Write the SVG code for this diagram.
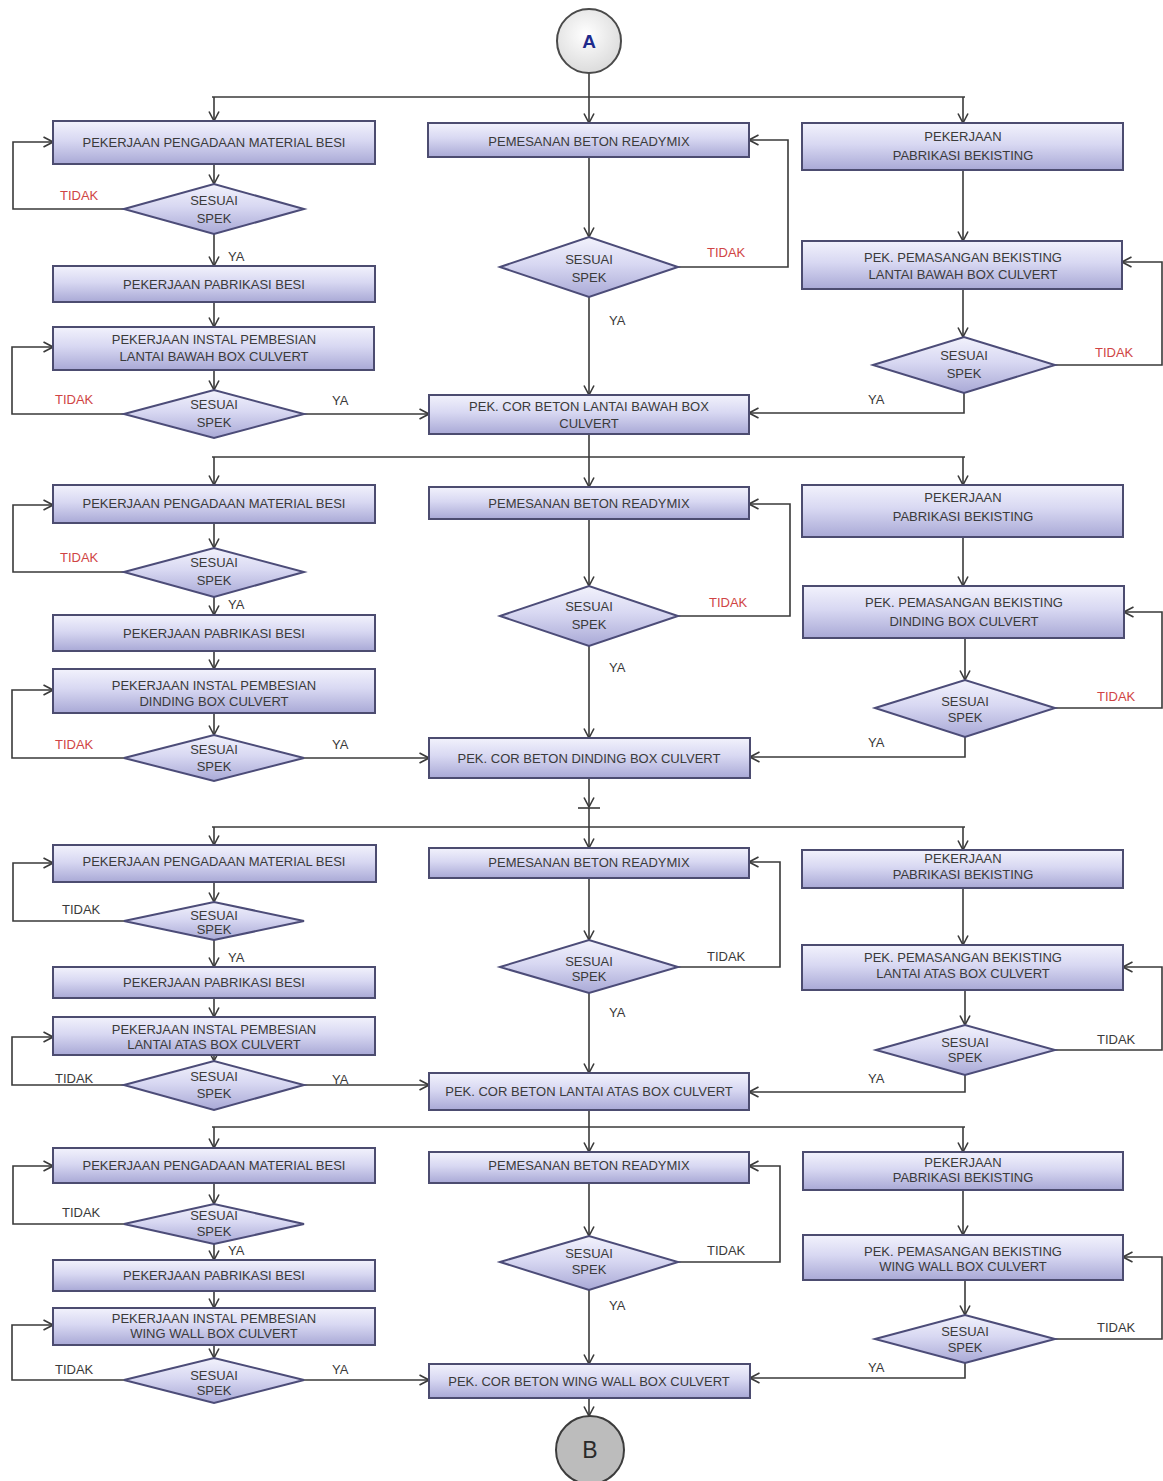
<svg xmlns="http://www.w3.org/2000/svg" width="1163" height="1481" viewBox="0 0 1163 1481">
  <style>
    .box { fill: url(#boxFill); stroke: #4c4c70; stroke-width: 2; }
    .dia { fill: url(#boxFill); stroke: #4c4c78; stroke-width: 2; }
    .t { font-family: "Liberation Sans", Arial, sans-serif; font-size: 13px; fill: #3a3a3a; text-anchor: middle; }
    .lbl { font-family: "Liberation Sans", Arial, sans-serif; font-size: 13px; fill: #3a3a3a; }
    .no { fill: #d04444; }
    .ln { fill: none; stroke: #3a3a3a; stroke-width: 1.6; }
    .ar { marker-end: url(#arrow); }
  </style>
  <defs>
    <linearGradient id="boxFill" x1="0" y1="0" x2="0" y2="1">
      <stop offset="0" stop-color="#f2f2fc"/>
      <stop offset="0.45" stop-color="#d8d8f2"/>
      <stop offset="1" stop-color="#a9a9d6"/>
    </linearGradient>
    <radialGradient id="startFill" cx="0.45" cy="0.4" r="0.7">
      <stop offset="0" stop-color="#ffffff"/>
      <stop offset="1" stop-color="#d6d6d6"/>
    </radialGradient>
    <marker id="arrow" viewBox="0 0 11 12" refX="10.5" refY="6" markerWidth="11" markerHeight="12" markerUnits="userSpaceOnUse" orient="auto">
      <path d="M1,1 L10.5,6 L1,11" fill="none" stroke="#3a3a3a" stroke-width="1.6"/>
    </marker>
  </defs>
  <rect width="1163" height="1481" fill="#ffffff"/>

  <!-- connectors -->
  <g id="connectors">
    <!-- stage 1: lantai bawah -->
    <path class="ln ar" d="M589,73 V123"/>
    <path class="ln" d="M212,97 H965"/>
    <path class="ln ar" d="M214,97 V121"/>
    <path class="ln ar" d="M963,97 V123"/>
    <path class="ln ar" d="M214,164 V184"/>
    <path class="ln ar" d="M124,209 H13 V142 H53"/>
    <path class="ln ar" d="M214,234 V266"/>
    <path class="ln ar" d="M214,302 V327"/>
    <path class="ln ar" d="M214,370 V390"/>
    <path class="ln ar" d="M124,414 H12 V347 H53"/>
    <path class="ln ar" d="M304,414 H429"/>
    <path class="ln ar" d="M589,157 V237"/>
    <path class="ln ar" d="M678,267 H788 V140 H749"/>
    <path class="ln ar" d="M589,297 V395"/>
    <path class="ln ar" d="M963,170 V241"/>
    <path class="ln ar" d="M963,289 V337"/>
    <path class="ln ar" d="M1055,365 H1162 V262 H1122"/>
    <path class="ln ar" d="M964,393 V413 H749"/>

    <!-- stage 2: dinding -->
    <path class="ln" d="M589,434 V457"/>
    <path class="ln" d="M212,457 H965"/>
    <path class="ln ar" d="M214,457 V485"/>
    <path class="ln ar" d="M589,457 V487"/>
    <path class="ln ar" d="M963,457 V485"/>
    <path class="ln ar" d="M214,523 V548"/>
    <path class="ln ar" d="M124,572 H13 V505 H53"/>
    <path class="ln ar" d="M214,597 V615"/>
    <path class="ln ar" d="M214,651 V669"/>
    <path class="ln ar" d="M214,713 V735"/>
    <path class="ln ar" d="M124,758 H12 V690 H53"/>
    <path class="ln ar" d="M304,758 H429"/>
    <path class="ln ar" d="M589,519 V586"/>
    <path class="ln ar" d="M678,616 H790 V504 H749"/>
    <path class="ln ar" d="M589,646 V738"/>
    <path class="ln ar" d="M963,537 V586"/>
    <path class="ln ar" d="M965,638 V680"/>
    <path class="ln ar" d="M1055,708 H1162 V612 H1124"/>
    <path class="ln ar" d="M965,737 V757 H750"/>

    <!-- stage 3: lantai atas -->
    <path class="ln ar" d="M589,778 V807"/>
    <path class="ln" d="M578,808 H600"/>
    <path class="ln" d="M589,808 V827"/>
    <path class="ln" d="M212,827 H965"/>
    <path class="ln ar" d="M214,827 V845"/>
    <path class="ln ar" d="M589,827 V848"/>
    <path class="ln ar" d="M963,827 V850"/>
    <path class="ln ar" d="M214,882 V902"/>
    <path class="ln ar" d="M124,921 H13 V863 H53"/>
    <path class="ln ar" d="M214,940 V967"/>
    <path class="ln ar" d="M214,998 V1017"/>
    <path class="ln ar" d="M214,1055 V1061"/>
    <path class="ln ar" d="M124,1085 H12 V1037 H53"/>
    <path class="ln ar" d="M304,1085 H429"/>
    <path class="ln ar" d="M589,878 V940"/>
    <path class="ln ar" d="M678,967 H780 V862 H749"/>
    <path class="ln ar" d="M589,993 V1073"/>
    <path class="ln ar" d="M963,888 V945"/>
    <path class="ln ar" d="M965,990 V1025"/>
    <path class="ln ar" d="M1055,1050 H1162 V967 H1123"/>
    <path class="ln ar" d="M965,1075 V1092 H749"/>

    <!-- stage 4: wing wall -->
    <path class="ln" d="M589,1110 V1127"/>
    <path class="ln" d="M212,1127 H965"/>
    <path class="ln ar" d="M214,1127 V1148"/>
    <path class="ln ar" d="M589,1127 V1152"/>
    <path class="ln ar" d="M963,1127 V1152"/>
    <path class="ln ar" d="M214,1183 V1204"/>
    <path class="ln ar" d="M124,1224 H13 V1166 H53"/>
    <path class="ln ar" d="M214,1244 V1260"/>
    <path class="ln ar" d="M214,1291 V1308"/>
    <path class="ln ar" d="M214,1345 V1358"/>
    <path class="ln ar" d="M124,1380 H12 V1325 H53"/>
    <path class="ln ar" d="M304,1380 H429"/>
    <path class="ln ar" d="M589,1183 V1236"/>
    <path class="ln ar" d="M678,1262 H780 V1166 H749"/>
    <path class="ln ar" d="M589,1290 V1364"/>
    <path class="ln ar" d="M963,1190 V1235"/>
    <path class="ln ar" d="M965,1280 V1315"/>
    <path class="ln ar" d="M1055,1339 H1162 V1257 H1123"/>
    <path class="ln ar" d="M965,1363 V1378 H750"/>
    <path class="ln ar" d="M589,1398 V1416"/>
  </g>

  <!-- branch labels -->
  <g id="labels">
    <text class="lbl no" x="60" y="200">TIDAK</text>
    <text class="lbl" x="228" y="261">YA</text>
    <text class="lbl no" x="55" y="404">TIDAK</text>
    <text class="lbl" x="332" y="405">YA</text>
    <text class="lbl no" x="707" y="257">TIDAK</text>
    <text class="lbl" x="609" y="325">YA</text>
    <text class="lbl no" x="1095" y="357">TIDAK</text>
    <text class="lbl" x="868" y="404">YA</text>

    <text class="lbl no" x="60" y="562">TIDAK</text>
    <text class="lbl" x="228" y="609">YA</text>
    <text class="lbl no" x="55" y="749">TIDAK</text>
    <text class="lbl" x="332" y="749">YA</text>
    <text class="lbl no" x="709" y="607">TIDAK</text>
    <text class="lbl" x="609" y="672">YA</text>
    <text class="lbl no" x="1097" y="701">TIDAK</text>
    <text class="lbl" x="868" y="747">YA</text>

    <text class="lbl" x="62" y="914">TIDAK</text>
    <text class="lbl" x="228" y="962">YA</text>
    <text class="lbl" x="55" y="1083">TIDAK</text>
    <text class="lbl" x="332" y="1084">YA</text>
    <text class="lbl" x="707" y="961">TIDAK</text>
    <text class="lbl" x="609" y="1017">YA</text>
    <text class="lbl" x="1097" y="1044">TIDAK</text>
    <text class="lbl" x="868" y="1083">YA</text>

    <text class="lbl" x="62" y="1217">TIDAK</text>
    <text class="lbl" x="228" y="1255">YA</text>
    <text class="lbl" x="55" y="1374">TIDAK</text>
    <text class="lbl" x="332" y="1374">YA</text>
    <text class="lbl" x="707" y="1255">TIDAK</text>
    <text class="lbl" x="609" y="1310">YA</text>
    <text class="lbl" x="1097" y="1332">TIDAK</text>
    <text class="lbl" x="868" y="1372">YA</text>
  </g>

  <!-- connector circles -->
  <g id="start-a">
    <circle cx="589" cy="41" r="32" fill="url(#startFill)" stroke="#4a4a4a" stroke-width="2"/>
    <text x="589" y="48" font-family="Liberation Sans, Arial, sans-serif" font-size="19" font-weight="bold" fill="#1e2a8c" text-anchor="middle">A</text>
  </g>
  <g id="end-b">
    <circle cx="590" cy="1450" r="34" fill="#bcbcbc" stroke="#3c3c3c" stroke-width="2"/>
    <text x="590" y="1458" font-family="Liberation Sans, Arial, sans-serif" font-size="23" fill="#2a2a2a" text-anchor="middle">B</text>
  </g>

  <!-- stage 1 nodes -->
  <g id="s1-besi-pengadaan"><rect class="box" x="53" y="121" width="322" height="43"/><text class="t" x="214" y="147">PEKERJAAN PENGADAAN MATERIAL BESI</text></g>
  <g id="s1-besi-cek1"><polygon class="dia" points="124,209 214,184 304,209 214,234"/><text class="t" x="214" y="205">SESUAI</text><text class="t" x="214" y="223">SPEK</text></g>
  <g id="s1-besi-pabrikasi"><rect class="box" x="53" y="266" width="322" height="36"/><text class="t" x="214" y="289">PEKERJAAN PABRIKASI BESI</text></g>
  <g id="s1-besi-instal"><rect class="box" x="53" y="327" width="321" height="43"/><text class="t" x="214" y="344">PEKERJAAN INSTAL PEMBESIAN</text><text class="t" x="214" y="361">LANTAI BAWAH BOX CULVERT</text></g>
  <g id="s1-besi-cek2"><polygon class="dia" points="124,414 214,390 304,414 214,438"/><text class="t" x="214" y="409">SESUAI</text><text class="t" x="214" y="427">SPEK</text></g>
  <g id="s1-beton-pesan"><rect class="box" x="428" y="123" width="321" height="34"/><text class="t" x="589" y="146">PEMESANAN BETON READYMIX</text></g>
  <g id="s1-beton-cek"><polygon class="dia" points="500,267 589,237 678,267 589,297"/><text class="t" x="589" y="264">SESUAI</text><text class="t" x="589" y="282">SPEK</text></g>
  <g id="s1-bek-pabrikasi"><rect class="box" x="802" y="123" width="321" height="47"/><text class="t" x="963" y="141">PEKERJAAN</text><text class="t" x="963" y="160">PABRIKASI BEKISTING</text></g>
  <g id="s1-bek-pasang"><rect class="box" x="802" y="241" width="320" height="48"/><text class="t" x="963" y="262">PEK. PEMASANGAN BEKISTING</text><text class="t" x="963" y="279">LANTAI BAWAH BOX CULVERT</text></g>
  <g id="s1-bek-cek"><polygon class="dia" points="873,365 964,337 1055,365 964,393"/><text class="t" x="964" y="360">SESUAI</text><text class="t" x="964" y="378">SPEK</text></g>
  <g id="s1-cor"><rect class="box" x="429" y="395" width="320" height="39"/><text class="t" x="589" y="411">PEK. COR BETON LANTAI BAWAH BOX</text><text class="t" x="589" y="428">CULVERT</text></g>

  <!-- stage 2 nodes -->
  <g id="s2-besi-pengadaan"><rect class="box" x="53" y="485" width="322" height="38"/><text class="t" x="214" y="508">PEKERJAAN PENGADAAN MATERIAL BESI</text></g>
  <g id="s2-besi-cek1"><polygon class="dia" points="124,572 214,548 304,572 214,597"/><text class="t" x="214" y="567">SESUAI</text><text class="t" x="214" y="585">SPEK</text></g>
  <g id="s2-besi-pabrikasi"><rect class="box" x="53" y="615" width="322" height="36"/><text class="t" x="214" y="638">PEKERJAAN PABRIKASI BESI</text></g>
  <g id="s2-besi-instal"><rect class="box" x="53" y="669" width="322" height="44"/><text class="t" x="214" y="690">PEKERJAAN INSTAL PEMBESIAN</text><text class="t" x="214" y="706">DINDING BOX CULVERT</text></g>
  <g id="s2-besi-cek2"><polygon class="dia" points="124,758 214,735 304,758 214,781"/><text class="t" x="214" y="754">SESUAI</text><text class="t" x="214" y="771">SPEK</text></g>
  <g id="s2-beton-pesan"><rect class="box" x="429" y="487" width="320" height="32"/><text class="t" x="589" y="508">PEMESANAN BETON READYMIX</text></g>
  <g id="s2-beton-cek"><polygon class="dia" points="500,616 589,586 678,616 589,646"/><text class="t" x="589" y="611">SESUAI</text><text class="t" x="589" y="629">SPEK</text></g>
  <g id="s2-bek-pabrikasi"><rect class="box" x="802" y="485" width="321" height="52"/><text class="t" x="963" y="502">PEKERJAAN</text><text class="t" x="963" y="521">PABRIKASI BEKISTING</text></g>
  <g id="s2-bek-pasang"><rect class="box" x="803" y="586" width="321" height="52"/><text class="t" x="964" y="607">PEK. PEMASANGAN BEKISTING</text><text class="t" x="964" y="626">DINDING BOX CULVERT</text></g>
  <g id="s2-bek-cek"><polygon class="dia" points="875,708 965,680 1055,708 965,737"/><text class="t" x="965" y="706">SESUAI</text><text class="t" x="965" y="722">SPEK</text></g>
  <g id="s2-cor"><rect class="box" x="429" y="738" width="321" height="40"/><text class="t" x="589" y="763">PEK. COR BETON DINDING BOX CULVERT</text></g>

  <!-- stage 3 nodes -->
  <g id="s3-besi-pengadaan"><rect class="box" x="53" y="845" width="323" height="37"/><text class="t" x="214" y="866">PEKERJAAN PENGADAAN MATERIAL BESI</text></g>
  <g id="s3-besi-cek1"><polygon class="dia" points="124,921 214,902 304,921 214,940"/><text class="t" x="214" y="920">SESUAI</text><text class="t" x="214" y="934">SPEK</text></g>
  <g id="s3-besi-pabrikasi"><rect class="box" x="53" y="967" width="322" height="31"/><text class="t" x="214" y="987">PEKERJAAN PABRIKASI BESI</text></g>
  <g id="s3-besi-instal"><rect class="box" x="53" y="1017" width="322" height="38"/><text class="t" x="214" y="1034">PEKERJAAN INSTAL PEMBESIAN</text><text class="t" x="214" y="1049">LANTAI ATAS BOX CULVERT</text></g>
  <g id="s3-besi-cek2"><polygon class="dia" points="124,1085 214,1061 304,1085 214,1110"/><text class="t" x="214" y="1081">SESUAI</text><text class="t" x="214" y="1098">SPEK</text></g>
  <g id="s3-beton-pesan"><rect class="box" x="429" y="848" width="320" height="30"/><text class="t" x="589" y="867">PEMESANAN BETON READYMIX</text></g>
  <g id="s3-beton-cek"><polygon class="dia" points="500,967 589,940 678,967 589,993"/><text class="t" x="589" y="966">SESUAI</text><text class="t" x="589" y="981">SPEK</text></g>
  <g id="s3-bek-pabrikasi"><rect class="box" x="802" y="850" width="321" height="38"/><text class="t" x="963" y="863">PEKERJAAN</text><text class="t" x="963" y="879">PABRIKASI BEKISTING</text></g>
  <g id="s3-bek-pasang"><rect class="box" x="802" y="945" width="321" height="45"/><text class="t" x="963" y="962">PEK. PEMASANGAN BEKISTING</text><text class="t" x="963" y="978">LANTAI ATAS BOX CULVERT</text></g>
  <g id="s3-bek-cek"><polygon class="dia" points="876,1050 965,1025 1055,1050 965,1075"/><text class="t" x="965" y="1047">SESUAI</text><text class="t" x="965" y="1062">SPEK</text></g>
  <g id="s3-cor"><rect class="box" x="429" y="1073" width="320" height="37"/><text class="t" x="589" y="1096">PEK. COR BETON LANTAI ATAS BOX CULVERT</text></g>

  <!-- stage 4 nodes -->
  <g id="s4-besi-pengadaan"><rect class="box" x="53" y="1148" width="322" height="35"/><text class="t" x="214" y="1170">PEKERJAAN PENGADAAN MATERIAL BESI</text></g>
  <g id="s4-besi-cek1"><polygon class="dia" points="124,1224 214,1204 304,1224 214,1244"/><text class="t" x="214" y="1220">SESUAI</text><text class="t" x="214" y="1236">SPEK</text></g>
  <g id="s4-besi-pabrikasi"><rect class="box" x="53" y="1260" width="322" height="31"/><text class="t" x="214" y="1280">PEKERJAAN PABRIKASI BESI</text></g>
  <g id="s4-besi-instal"><rect class="box" x="53" y="1308" width="322" height="37"/><text class="t" x="214" y="1323">PEKERJAAN INSTAL PEMBESIAN</text><text class="t" x="214" y="1338">WING WALL  BOX CULVERT</text></g>
  <g id="s4-besi-cek2"><polygon class="dia" points="124,1380 214,1358 304,1380 214,1403"/><text class="t" x="214" y="1380">SESUAI</text><text class="t" x="214" y="1395">SPEK</text></g>
  <g id="s4-beton-pesan"><rect class="box" x="429" y="1152" width="320" height="31"/><text class="t" x="589" y="1170">PEMESANAN BETON READYMIX</text></g>
  <g id="s4-beton-cek"><polygon class="dia" points="500,1262 589,1236 678,1262 589,1290"/><text class="t" x="589" y="1258">SESUAI</text><text class="t" x="589" y="1274">SPEK</text></g>
  <g id="s4-bek-pabrikasi"><rect class="box" x="803" y="1152" width="320" height="38"/><text class="t" x="963" y="1167">PEKERJAAN</text><text class="t" x="963" y="1182">PABRIKASI BEKISTING</text></g>
  <g id="s4-bek-pasang"><rect class="box" x="803" y="1235" width="320" height="45"/><text class="t" x="963" y="1256">PEK. PEMASANGAN BEKISTING</text><text class="t" x="963" y="1271">WING WALL BOX CULVERT</text></g>
  <g id="s4-bek-cek"><polygon class="dia" points="875,1339 965,1315 1055,1339 965,1363"/><text class="t" x="965" y="1336">SESUAI</text><text class="t" x="965" y="1352">SPEK</text></g>
  <g id="s4-cor"><rect class="box" x="429" y="1364" width="321" height="34"/><text class="t" x="589" y="1386">PEK. COR BETON WING WALL BOX CULVERT</text></g>
</svg>
